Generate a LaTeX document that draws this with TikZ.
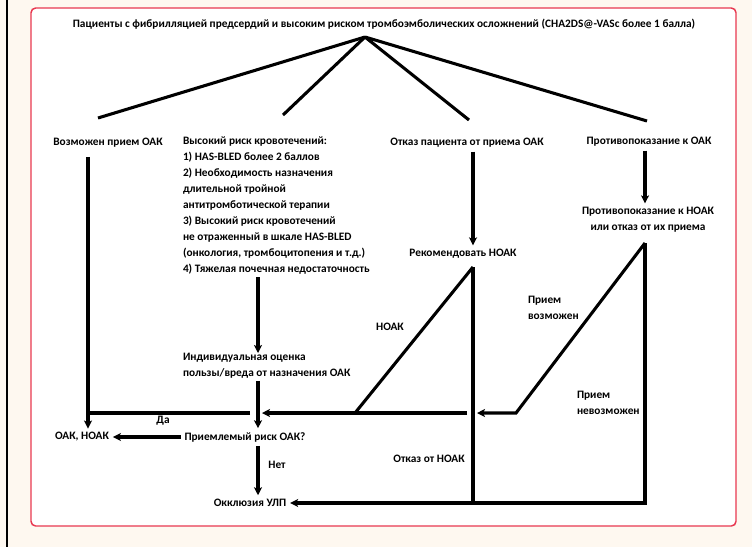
\documentclass[tikz,border=0pt]{standalone}
\usepackage{fontspec}
\setmainfont{Carlito}
\usetikzlibrary{arrows.meta}
\definecolor{frameRed}{RGB}{232,56,80}
\definecolor{paper}{RGB}{254,248,240}

\begin{document}
\begin{tikzpicture}[x=0.75pt,y=0.75pt,yscale=-1,xscale=1,
  txt/.style={font=\bfseries\fontsize{8.5}{12}\selectfont, inner sep=0pt, outer sep=3pt},
  ln/.style={line width=2.3pt},
  arr/.style={ln, -{Stealth[length=6pt,width=6pt,inset=1.5pt]}}]
\useasboundingbox (0,0) rectangle (752,547);

%Shape: Rectangle [id:background]
\fill [paper] (0,0) rectangle (752,547);
%Straight Lines [id:leftrule]
\draw [line width=1.5pt] (7,0) -- (7,547);
%Shape: Rectangle [id:frame]
\draw [frameRed, fill=white, line width=1.1pt, rounded corners=3.5pt] (31,8) rectangle (736,526);

% Text Node
\node [txt] (title) at (384,24) {Пациенты с фибрилляцией предсердий и высоким риском тромбоэмболических осложнений (CHA2DS@-VASc более 1 балла)};
% Text Node
\node [txt] (oak) at (108,143) {Возможен прием ОАК};
% Text Node
\node [txt, align=left, anchor=north west, outer sep=0pt] (bleed) at (183,137) {Высокий риск кровотечений:\\1) HAS-BLED более 2 баллов\\2) Необходимость назначения\\длительной тройной\\антитромботической терапии\\3) Высокий риск кровотечений\\не отраженный в шкале HAS-BLED\\(онкология, тромбоцитопения и т.д.)\\4) Тяжелая почечная недостаточность};
% Text Node
\node [txt] (refuse) at (467,143) {Отказ пациента от приема ОАК};
% Text Node
\node [txt] (contra) at (649,142) {Противопоказание к ОАК};
% Text Node
\node [txt, align=center] (contra2) at (648,220) {Противопоказание к НОАК\\или отказ от их приема};
% Text Node
\node [txt] (recom) at (463,254) {Рекомендовать НОАК};
% Text Node
\node [txt, align=left, anchor=north west, outer sep=0pt] (indiv) at (183,353) {Индивидуальная оценка\\пользы/вреда от назначения ОАК};
% Text Node
\node [txt] (accept) at (245,437) {Приемлемый риск ОАК?};
% Text Node
\node [txt] (oaknoak) at (82,437) {ОАК, НОАК};
% Text Node
\node [txt] (occl) at (250,503) {Окклюзия УЛП};
% Text Node
\node [txt] (yes) at (163,421) {Да};
% Text Node
\node [txt] (no) at (277,465) {Нет};
% Text Node
\node [txt] (noakLbl) at (390,327) {НОАК};
% Text Node
\node [txt] (refNoak) at (429,459) {Отказ от НОАК};
% Text Node
\node [txt, align=left, anchor=west] (possible) at (524,308) {Прием\\возможен};
% Text Node
\node [txt, align=left, anchor=west] (impossible) at (573,403) {Прием\\невозможен};

% Coordinates
\coordinate (apex) at (365,37);
\coordinate (brA) at (98,118);
\coordinate (brB) at (283,115);
\coordinate (brC) at (469,120);
\coordinate (brD) at (647,121);
\coordinate (colL) at (88,0);
\coordinate (colM) at (258,0);
\coordinate (colR) at (473,0);
\coordinate (colC) at (645,0);
\coordinate (joinL) at (250,413);
\coordinate (triTop) at (473,267);
\coordinate (triFoot) at (355,413);
\coordinate (gapR) at (467,413);
\coordinate (diagTop) at (645,243);
\coordinate (diagFoot) at (516,413);

%Straight Lines [id:branches]
\draw [ln] (apex) -- (brA);
\draw [ln] (apex) -- (brB);
\draw [ln] (apex) -- (brC);
\draw [ln] (apex) -- (brD);

%Straight Lines [id:leftcolumn]
\draw [arr, shorten <=4pt] (oak.south -| colL) -- (oaknoak.north -| colL);
\draw [ln] (joinL) -- (joinL -| colL);

%Straight Lines [id:midcolumn]
\draw [arr, shorten <=2pt] (bleed.south -| colM) -- (indiv.north -| colM);
\draw [arr, shorten <=2pt] (indiv.south -| colM) -- (accept.north -| colM);
\draw [arr] (accept.south -| colM) -- (occl.north -| colM);
\draw [arr] (accept.west) -- (oaknoak.east);

%Straight Lines [id:refusecolumn]
\draw [arr] (refuse.south -| colR) -- (recom.north -| colR);
\draw [ln] (triTop) -- (triFoot);
\draw [ln] (triTop) -- (triTop |- occl);
\draw [arr, shorten >=3pt] (gapR) -- (gapR -| colM);

%Straight Lines [id:contracolumn]
\draw [arr] (contra.south -| colC) -- (contra2.north -| colC);
\draw [arr, shorten >=3pt] (diagTop) -- (diagFoot) -- (diagFoot -| colR);
\draw [arr] (diagTop) -- (diagTop |- occl) -- (occl.east);

\end{tikzpicture}
\end{document}
